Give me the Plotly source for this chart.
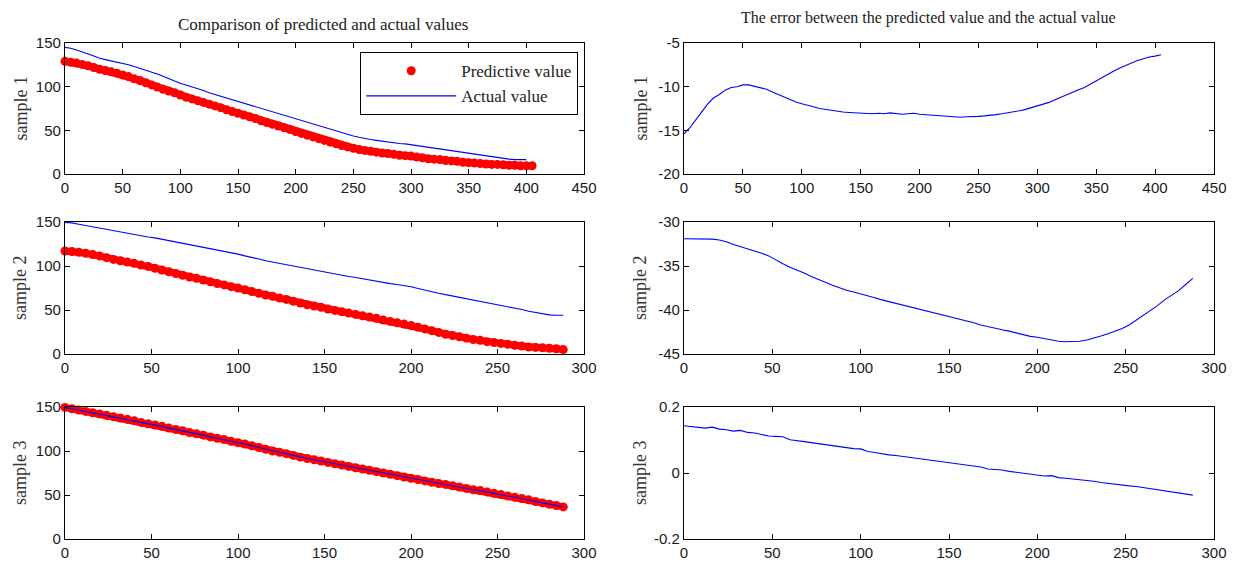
import plotly.graph_objects as go

# ---------------- data ----------------
# sample 1 : indices 0..405 step 5 (predicted / error), 0..400 step 5 (actual)
s1_step = 5
s1_pred = [129, 128, 127, 125.5, 124, 122, 120, 118.5, 117, 115.5,
           113.5, 111.5, 109, 107, 104.5, 102, 99.5, 97, 95, 93,
           90.5, 88, 86, 84, 82, 80, 78, 76, 73.5, 71.5,
           69.5, 67.5, 65.5, 63.5, 61, 59, 57, 55, 53, 51,
           48.5, 46.5, 44.5, 42.5, 40.5, 38.5, 36.5, 34.5, 32.5, 31,
           29.5, 28, 27, 26, 25, 24, 23.5, 22.5, 21.5, 21,
           20.5, 19.5, 18.5, 17.5, 17, 16.5, 15.5, 15, 14.5, 13.5,
           13, 12.5, 12, 11.5, 11, 11, 10.5, 10, 10, 9.5,
           9.5, 9.5]
s1_actual = [145, 144, 142, 140, 137.5, 135, 132.5, 131, 129.5, 128,
             127, 125, 123, 121, 119, 117, 114.5, 112, 109, 106.5,
             104, 102, 100, 97.5, 95.5, 93, 91, 89, 87, 85,
             83, 81, 79, 77, 75, 73, 71, 69, 67, 65.5,
             63.5, 61.5, 59.5, 57.5, 55.5, 53.5, 51.5, 49.5, 47.5, 45.5,
             43.5, 42, 40.5, 39.5, 38.5, 37.5, 36.5, 36, 35, 34.5,
             33.5, 32.5, 31.5, 30.5, 29.5, 28.5, 27.5, 26.5, 25.5, 24.5,
             23.5, 22.5, 21.5, 20.5, 19.5, 18.5, 17.5, 17, 16.5, 16.5,
             16.5]
s1_error = [-15.4, -14.7, -13.8, -12.9, -12.0, -11.3, -10.9, -10.4, -10.1, -10.0,
            -9.8, -9.8, -9.95, -10.1, -10.3, -10.6, -10.9, -11.2, -11.5, -11.75,
            -11.95, -12.1, -12.3, -12.5, -12.6, -12.75, -12.85, -12.9, -12.95, -13.0,
            -13.0, -13.05, -13.1, -13.05, -13.1, -13.0, -13.1, -13.15, -13.1, -13.05,
            -13.15, -13.2, -13.2, -13.25, -13.3, -13.35, -13.4, -13.5, -13.45, -13.45,
            -13.4, -13.35, -13.3, -13.2, -13.1, -13.0, -12.9, -12.75, -12.6, -12.4,
            -12.2, -12.0, -11.8, -11.5, -11.2, -10.9, -10.6, -10.35, -10.1, -9.7,
            -9.3, -8.95, -8.6, -8.2, -7.85, -7.55, -7.3, -7.0, -6.8, -6.6,
            -6.5, -6.35]

# sample 2 : indices 0..288 step 4
s2_step = 4
s2_pred = [117, 116.5, 115.5, 114.5, 113, 111.5, 109.5, 107.5, 106, 104.5,
           103, 101, 99.5, 97.5, 95.5, 93.5, 91.5, 89.5, 87.5, 86,
           84, 82, 80, 78.5, 76.5, 75, 73, 71, 69, 67,
           65.5, 63.5, 62, 60, 58, 56, 54.5, 53, 51, 49.5,
           48, 46.5, 45, 43.5, 42, 40.5, 38.5, 37, 35.5, 34,
           32.5, 30.5, 28.5, 26.5, 24.5, 22.5, 21, 19.5, 18, 16.5,
           15.5, 14, 13, 12, 11, 10, 9, 8, 7.5, 7,
           6.5, 6, 5]
s2_actual = [149.5, 149, 147.5, 146, 144.5, 143, 141.5, 140, 138.5, 137,
             136, 134.5, 133, 132, 130.5, 129, 127.5, 126, 124.5, 123,
             121, 119.5, 118, 116.5, 115, 113.5, 111.5, 110, 108, 106,
             104.5, 102.5, 101, 99.5, 98, 96.5, 95, 93.5, 92, 90.5,
             89, 88, 87, 85.5, 84.5, 83, 81.5, 80, 79, 78,
             76.5, 74.5, 72.5, 71, 69, 67.5, 66, 64.5, 63, 61.5,
             60, 58.5, 57, 55.5, 54, 52, 50.5, 48.5, 47, 45.5,
             44.5, 44, 44]
s2_error = [-31.9, -31.9, -31.9, -31.9, -31.95, -32.05, -32.25, -32.55, -32.8, -33.0,
            -33.25, -33.55, -33.85, -34.35, -34.75, -35.15, -35.45, -35.8, -36.2, -36.5,
            -36.85, -37.2, -37.5, -37.75, -37.95, -38.15, -38.35, -38.6, -38.85, -39.05,
            -39.25, -39.45, -39.65, -39.85, -40.05, -40.2, -40.45, -40.65, -40.85, -41.05,
            -41.2, -41.45, -41.7, -41.9, -42.05, -42.25, -42.4, -42.6, -42.8, -43.0,
            -43.1, -43.25, -43.45, -43.55, -43.6, -43.6, -43.55, -43.4, -43.2, -42.95,
            -42.7, -42.4, -42.1, -41.7, -41.15, -40.65, -40.1, -39.5, -38.85, -38.3,
            -37.8, -37.1, -36.4]

# sample 3 : indices 0..288 step 4
s3_step = 4
s3_pred = [149.5, 148, 146.5, 145, 143.5, 142, 140.5, 139, 137.5, 136,
           134.5, 132.5, 131, 129.5, 128, 126, 124.5, 123, 121, 119.5,
           118, 116, 114.5, 113, 111, 109.5, 108, 106, 104, 102,
           100, 98.5, 97, 95, 93, 91.5, 90, 88.5, 87, 85.5,
           84, 82.5, 81, 79.5, 78, 76.5, 75, 73.5, 72, 70.5,
           69, 67.5, 66, 64.5, 63, 62, 60.5, 59, 57.5, 56,
           55, 53.5, 52, 50.5, 49, 47.5, 46, 44.5, 42.5, 41,
           39.5, 38, 36.5]
s3_actual = [149.5, 148, 146.5, 145, 143.5, 142, 140.5, 139, 137.5, 136,
             134.5, 132.5, 131, 129.5, 128, 126, 124.5, 123, 121, 119.5,
             118, 116, 114.5, 113, 111, 109.5, 108, 106, 104, 102,
             100, 98.5, 97, 95, 93, 91.5, 90, 88.5, 87, 85.5,
             84, 82.5, 81, 79.5, 78, 76.5, 75, 73.5, 72, 70.5,
             69, 67.5, 66, 64.5, 63, 62, 60.5, 59, 57.5, 56,
             55, 53.5, 52, 50.5, 49, 47.5, 46, 44.5, 42.5, 41,
             39.5, 38, 36.5]
s3_error = [0.143, 0.141, 0.137, 0.136, 0.139, 0.133, 0.131, 0.127, 0.129, 0.123,
            0.121, 0.117, 0.112, 0.111, 0.110, 0.101, 0.099, 0.095, 0.092, 0.089,
            0.086, 0.083, 0.079, 0.077, 0.074, 0.073, 0.065, 0.062, 0.058, 0.055,
            0.053, 0.050, 0.047, 0.044, 0.041, 0.039, 0.035, 0.034, 0.029, 0.026,
            0.024, 0.021, 0.018, 0.012, 0.011, 0.009, 0.005, 0.002, 0.000, -0.003,
            -0.006, -0.009, -0.008, -0.014, -0.016, -0.018, -0.020, -0.022, -0.025, -0.029,
            -0.032, -0.035, -0.037, -0.039, -0.041, -0.044, -0.047, -0.051, -0.053, -0.056,
            -0.059, -0.063, -0.067]

# tick labels
x_ticks_450 = [0, 50, 100, 150, 200, 250, 300, 350, 400, 450]
x_ticks_300 = [0, 50, 100, 150, 200, 250, 300]
y_ticks_left = [0, 50, 100, 150]
y_ticks_r1 = [-20, -15, -10, -5]
y_ticks_r2 = [-45, -40, -35, -30]
y_ticks_r3 = [-0.2, 0, 0.2]
y_text_r3 = ["-0.2", "0", "0.2"]

row_labels = ["sample 1", "sample 2", "sample 3"]
title_left = "Comparison of predicted and actual values"
title_right = "The error between the predicted value and the actual value"
legend_names = ["Predictive value", "Actual value"]

# ---------------- layout geometry ----------------
# the page body keeps its default 8px margin, so the figure is sized to
# fill the rest of the 1237x568 window and positions are given in window px.
WIN_W, WIN_H, OFF = 1237, 568, 8
W, H = WIN_W - OFF, WIN_H - OFF

def px_x(a, b):
    return [(a - OFF) / W, (b - OFF) / W]
def px_y(top, bottom):
    return [1 - (bottom - OFF) / H, 1 - (top - OFF) / H]
def fx(a):
    return (a - OFF) / W
def fy(a):
    return 1 - (a - OFF) / H

col_dom = [px_x(65, 584), px_x(684, 1214)]
row_dom = [px_y(43, 174), px_y(222, 354), px_y(407, 539)]

RED = "#ff0000"
BLUE = "#0000ff"
tick_font = dict(family="Liberation Sans, Arial", size=15, color="#1a1a1a")
serif = "Liberation Serif, Times New Roman, serif"

fig = go.Figure()

def idx(n, step):
    return [i * step for i in range(n)]

panels = [
    (s1_pred, s1_actual, s1_error, s1_step),
    (s2_pred, s2_actual, s2_error, s2_step),
    (s3_pred, s3_actual, s3_error, s3_step),
]

for r, (pred, act, err, step) in enumerate(panels):
    xl = "x%d" % (2 * r + 1) if r else "x"
    yl = "y%d" % (2 * r + 1) if r else "y"
    xr = "x%d" % (2 * r + 2)
    yr = "y%d" % (2 * r + 2)
    # dense band joining the predicted markers (as in the original dense sampling)
    fig.add_trace(go.Scatter(
        x=idx(len(pred), step), y=pred, mode="lines",
        line=dict(color=RED, width=7), showlegend=False, hoverinfo="skip",
        cliponaxis=False, xaxis=xl, yaxis=yl))
    fig.add_trace(go.Scatter(
        x=idx(len(pred), step), y=pred, mode="markers",
        marker=dict(color=RED, size=9, line=dict(width=0)),
        name=legend_names[0], showlegend=(r == 0), cliponaxis=False,
        xaxis=xl, yaxis=yl))
    fig.add_trace(go.Scatter(
        x=idx(len(act), step), y=act, mode="lines",
        line=dict(color=BLUE, width=1.1),
        name=legend_names[1], showlegend=(r == 0),
        xaxis=xl, yaxis=yl))
    fig.add_trace(go.Scatter(
        x=idx(len(err), step), y=err, mode="lines",
        line=dict(color=BLUE, width=1.1), showlegend=False,
        xaxis=xr, yaxis=yr))

def axis(domain, rng, vals, text, anchor):
    return dict(domain=domain, range=rng, tickmode="array", tickvals=vals,
                ticktext=text, ticks="inside", ticklen=5, tickcolor="black",
                showline=True, linecolor="black", linewidth=1.2,
                mirror="allticks", showgrid=False, zeroline=False,
                tickfont=tick_font, anchor=anchor, fixedrange=True,
                automargin=False)

def fmt(v):
    return [str(t) for t in v]

layout_axes = {}
x_ranges = [([0, 450], x_ticks_450), ([0, 300], x_ticks_300), ([0, 300], x_ticks_300)]
y_right = [(y_ticks_r1, fmt(y_ticks_r1), [-20, -5]),
           (y_ticks_r2, fmt(y_ticks_r2), [-45, -30]),
           (y_ticks_r3, y_text_r3, [-0.2, 0.2])]
for r in range(3):
    nl, nr = 2 * r + 1, 2 * r + 2
    kxl = "xaxis" if nl == 1 else "xaxis%d" % nl
    kyl = "yaxis" if nl == 1 else "yaxis%d" % nl
    xrng, xt = x_ranges[r]
    layout_axes[kxl] = axis(col_dom[0], xrng, xt, fmt(xt), "y" if nl == 1 else "y%d" % nl)
    layout_axes[kyl] = axis(row_dom[r], [0, 150], y_ticks_left, fmt(y_ticks_left), "x" if nl == 1 else "x%d" % nl)
    layout_axes["xaxis%d" % nr] = axis(col_dom[1], xrng, xt, fmt(xt), "y%d" % nr)
    yv, ytx, yrg = y_right[r]
    layout_axes["yaxis%d" % nr] = axis(row_dom[r], yrg, yv, ytx, "x%d" % nr)

annotations = []
for r in range(3):
    yc = (row_dom[r][0] + row_dom[r][1]) / 2
    for xc in (20, 640):
        annotations.append(dict(text=row_labels[r], x=fx(xc), y=yc, xref="paper", yref="paper",
                                showarrow=False, textangle=-90,
                                font=dict(family=serif, size=18, color="#333333"),
                                xanchor="center", yanchor="middle"))
annotations.append(dict(text=title_left, x=fx(323), y=fy(24), xref="paper", yref="paper",
                        showarrow=False, font=dict(family=serif, size=17, color="#222222"),
                        xanchor="center", yanchor="middle"))
annotations.append(dict(text=title_right, x=fx(928), y=fy(18), xref="paper", yref="paper",
                        showarrow=False, font=dict(family=serif, size=16, color="#222222"),
                        xanchor="center", yanchor="middle"))

fig.update_layout(
    width=W, height=H,
    margin=dict(l=0, r=0, t=0, b=0, autoexpand=False),
    paper_bgcolor="white", plot_bgcolor="white",
    showlegend=True,
    legend=dict(x=fx(578), y=fy(52), xanchor="right", yanchor="top",
                bgcolor="white", bordercolor="black", borderwidth=1.2,
                font=dict(family=serif, size=17, color="#222222"),
                itemwidth=90, tracegroupgap=0),
    annotations=annotations,
    **layout_axes,
)

fig.write_html("out.html")
